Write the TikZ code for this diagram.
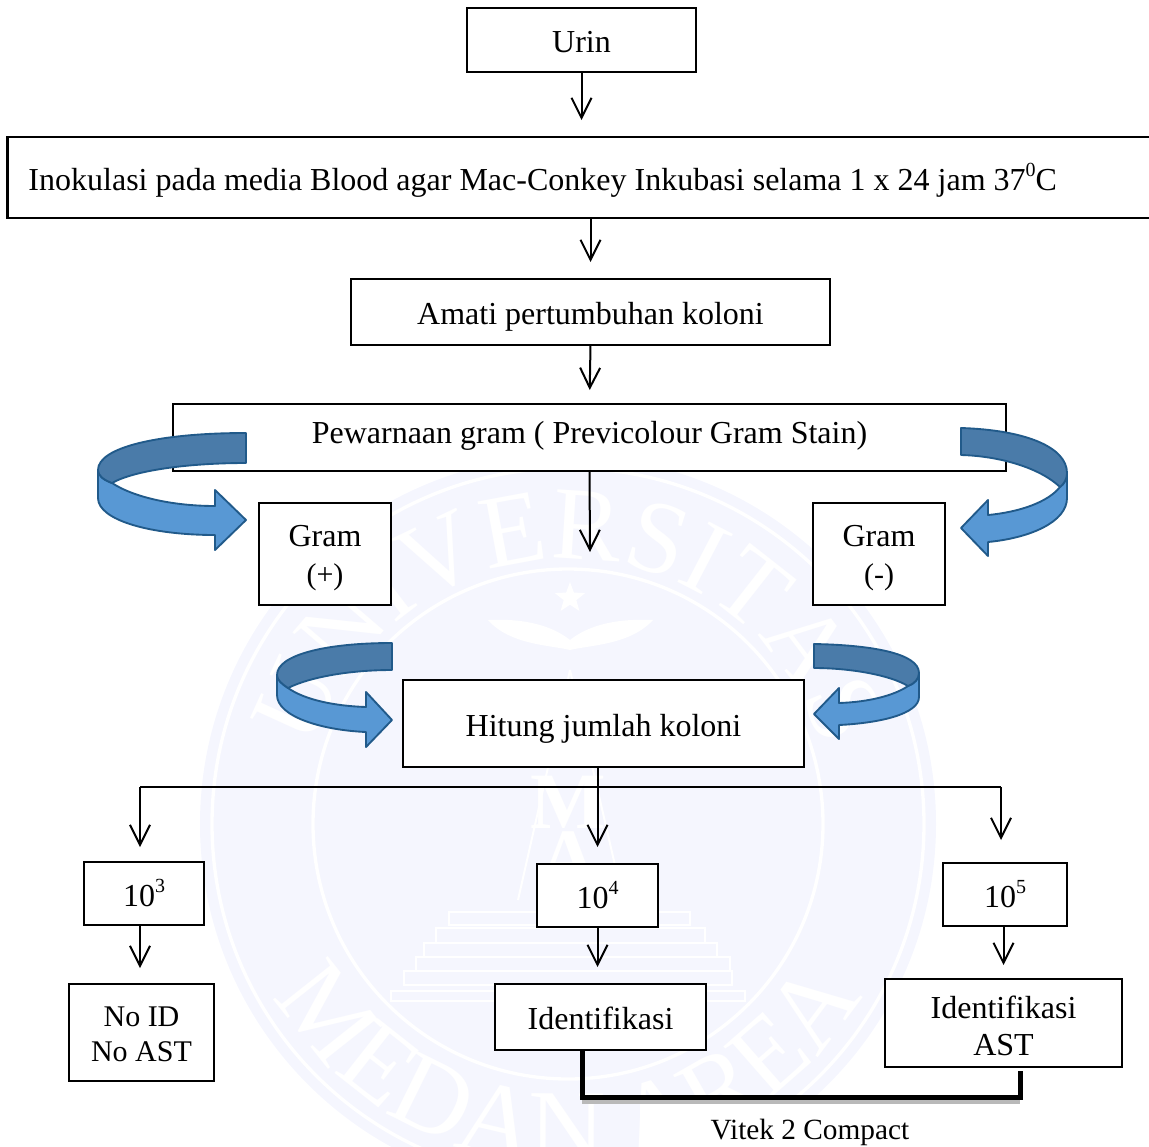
\documentclass[tikz,border=0pt]{standalone}
\usepackage{fontspec}
\setmainfont{Liberation Serif}
\usetikzlibrary{arrows.meta, decorations.text, shapes.geometric}
\newcommand{\pangkat}[1]{\raisebox{10pt}{\fontsize{15}{15}\selectfont #1}}
\definecolor{bandline}{HTML}{215A8A}
\definecolor{banddark}{HTML}{4A7BA9}
\definecolor{bandlight}{HTML}{5898D4}
\definecolor{segel}{HTML}{F5F6FE}
\tikzset{
    box/.style={draw, line width=1.7pt, fill=white, inner sep=0pt, outer sep=0pt, align=center, font=\fontsize{24}{27}\selectfont},
    oneline/.style={text height=19.8pt, text depth=1pt},
    arr/.style={line width=1.5pt, -{Straight Barb[length=15pt, width=15pt, line width=1.5pt]}},
    lnk/.style={line width=1.5pt},
    darkband/.style={draw=bandline, line width=1.4pt, fill=banddark, line join=round},
    lightband/.style={draw=bandline, line width=1.4pt, fill=bandlight, line join=round},
    tangga/.style={draw=white, line width=1.5pt},
}
\begin{document}
\begin{tikzpicture}[x=0.75pt, y=-0.75pt]
    \useasboundingbox (0, 0) rectangle (1149, 1146);

    % watermark
    \fill[segel] (568, 824) circle[radius=368];
    \draw[white, line width=2.5pt] (568, 824) circle[radius=356];
    \draw[white, line width=2.5pt] (568, 824) circle[radius=255];
    \path[decorate, decoration={text along path, text align=center, text={|\fontsize{78}{78}\selectfont\color{white}|UNIVERSITAS}}] (303, 824) arc[start angle=180, end angle=360, radius=265];
    \path[decorate, decoration={text along path, text align=center, text={|\fontsize{80}{80}\selectfont\color{white}|MEDAN AREA}}] (228, 824) arc[start angle=180, end angle=0, radius=340];
    \node[star, star points=5, star point ratio=2.4, fill=white, inner sep=0pt, minimum size=24pt] (bintang) at (570, 598) {};
    \fill[white] (488, 620) .. controls (530, 618) and (555, 628) .. (570, 640) .. controls (585, 628) and (610, 618) .. (653, 620) .. controls (630, 645) and (590, 645) .. (570, 650) .. controls (550, 645) and (510, 645) .. (488, 620) -- cycle;
    \node[font=\fontsize{60}{60}\selectfont\bfseries, text=white, inner sep=0pt] (hurufm) at (568, 802) {M};
    \node[font=\fontsize{60}{60}\selectfont\bfseries, text=white, inner sep=0pt] (hurufa) at (568, 858) {A};
    \draw[tangga] (570, 670) -- (518, 900) (570, 670) -- (623, 900);
    \draw[tangga] (449, 912) rectangle (690, 925);
    \draw[tangga] (436, 928) rectangle (705, 943);
    \draw[tangga] (424, 943) rectangle (717, 957);
    \draw[tangga] (416, 957) rectangle (730, 971);
    \draw[tangga] (404, 971) rectangle (732, 985);
    \draw[tangga] (391, 991) rectangle (745, 1001);

    % boxes
    \node[box, oneline, minimum width=171.75pt, minimum height=48pt] (urin) at (581.5, 40) {Urin};
    \node[box, oneline, minimum height=60.75pt, text width=826.5pt, inner xsep=15.75pt, align=flush left] (inokulasi) at (579.5, 177.5) {Inokulasi pada media Blood agar Mac-Conkey Inkubasi selama 1 x 24 jam 37\pangkat{0}C};
    \node[box, oneline, minimum width=359.25pt, minimum height=49.5pt] (amati) at (590.5, 312) {Amati pertumbuhan koloni};
    \node[box, minimum width=624.75pt, minimum height=50.25pt, text height=14.7pt, text depth=5pt] (pewarnaan) at (589.5, 437.5) {Pewarnaan gram ( Previcolour Gram Stain)};
    \node[box, minimum width=99pt, minimum height=76.5pt] (gramplus) at (325, 554) {\rule{0pt}{22pt}Gram\\[1.5pt]{\fontsize{22.5}{27}\selectfont (+)}};
    \node[box, minimum width=99pt, minimum height=76.5pt] (grammin) at (879, 554) {\rule{0pt}{22pt}Gram\\[1.5pt]{\fontsize{22.5}{27}\selectfont (-)}};
    \node[box, oneline, minimum width=300.75pt, minimum height=65.25pt] (hitung) at (603.5, 723.5) {Hitung jumlah koloni};
    \node[box, oneline, minimum width=90pt, minimum height=47.25pt] (seribu) at (144, 893.5) {10\pangkat{3}};
    \node[box, oneline, minimum width=90.75pt, minimum height=47.25pt] (puluhribu) at (597.5, 895.5) {10\pangkat{4}};
    \node[box, oneline, minimum width=93pt, minimum height=47.25pt] (ratusribu) at (1005, 894.5) {10\pangkat{5}};
    \node[box, minimum width=108.75pt, minimum height=72.75pt, font=\fontsize{22.5}{27}\selectfont] (noid) at (141.5, 1032.5) {\rule{0pt}{17pt}No ID\\[-1pt]No AST};
    \node[box, oneline, minimum width=158.25pt, minimum height=49.5pt] (identifikasi) at (600.5, 1017) {Identifikasi};
    \node[box, minimum width=177.75pt, minimum height=66pt] (identast) at (1003.5, 1023) {\rule{0pt}{21.5pt}Identifikasi\\[0.75pt]AST};
    \node[fill=white, font=\fontsize{22}{26}\selectfont, inner sep=0pt, minimum width=255pt, minimum height=33pt, text height=22pt, text depth=1pt] (vitek) at (810, 1125) {Vitek 2 Compact};

    \coordinate (tengah) at (590, 552);
    \coordinate (cabang) at (597.5, 787);
    \coordinate (kiri) at (140, 787);
    \coordinate (kanan) at (1001, 787);
    \coordinate (bawahkiri) at (582, 1097);
    \coordinate (bawahkanan) at (1020, 1097);
    \coordinate (atasast) at (1020, 1071);

    % arrows
    \draw[arr, shorten >=12.75pt] (urin.south) -- (inokulasi.north -| urin.south);
    \draw[arr, shorten >=12.75pt] (inokulasi.south -| amati.north) -- (amati.north);
    \draw[arr, shorten >=10.5pt] (amati.south) -- (pewarnaan.north);
    \draw[arr] (pewarnaan.south) -- (tengah);
    \draw[arr, shorten >=12.75pt] (hitung.south -| cabang) -- (puluhribu.north);
    \draw[lnk] (kiri) -- (kanan);
    \draw[arr, shorten >=11.25pt] (kiri) -- (kiri |- seribu.north);
    \draw[arr, shorten >=17.25pt] (kanan) -- (kanan |- ratusribu.north);
    \draw[arr, shorten >=12pt] (seribu.south -| kiri) -- (noid.north -| kiri);
    \draw[arr, shorten >=12.75pt] (puluhribu.south) -- (identifikasi.north -| puluhribu.south);
    \draw[arr, shorten >=10.5pt] (ratusribu.south -| identast.north) -- (identast.north);

    % thick link to vitek
    \draw[line width=3.75pt, gray!55] ([yshift=-3pt]bawahkiri) -- ([yshift=-3pt]bawahkanan);
    \draw[line width=3.75pt] (identifikasi.south -| bawahkiri) -- (bawahkiri) -- (bawahkanan) -- (atasast);

    % bent arrows, left
    \draw[lightband] (98, 470) -- (98, 498) .. controls (98, 520) and (150, 535) .. (215, 535) -- (215, 550) -- (246, 520) -- (215, 490) -- (215, 506) .. controls (175, 506) and (135, 498) .. (112, 483) .. controls (104, 480) and (98, 476) .. (98, 470) -- cycle;
    \draw[darkband] (246, 433) .. controls (160, 433) and (98, 447) .. (98, 470) .. controls (98, 476) and (104, 480) .. (112, 483) .. controls (135, 470) and (190, 463) .. (246, 463) -- cycle;
    \draw[lightband] (277, 675) -- (277, 695) .. controls (277, 716) and (320, 730) .. (366, 732) -- (366, 747) -- (392, 720) -- (366, 692) -- (366, 707) .. controls (335, 706) and (305, 700) .. (288, 688) .. controls (282, 684) and (277, 680) .. (277, 675) -- cycle;
    \draw[darkband] (392, 643) .. controls (325, 643) and (277, 655) .. (277, 675) .. controls (277, 680) and (282, 684) .. (288, 688) .. controls (310, 677) and (350, 670) .. (392, 670) -- cycle;

    % bent arrows, right
    \draw[lightband] (1067, 473) -- (1067, 498) .. controls (1067, 522) and (1030, 538) .. (988, 542) -- (988, 556) -- (961, 528) -- (988, 500) -- (988, 515) .. controls (1020, 512) and (1048, 502) .. (1060, 487) .. controls (1064, 484) and (1067, 479) .. (1067, 473) -- cycle;
    \draw[darkband] (961, 428) .. controls (1025, 430) and (1067, 447) .. (1067, 473) .. controls (1067, 479) and (1064, 484) .. (1060, 487) .. controls (1040, 468) and (1000, 456) .. (961, 455) -- cycle;
    \draw[lightband] (919, 673) -- (919, 697) .. controls (919, 714) and (880, 723) .. (839, 725) -- (839, 739) -- (814, 714) -- (839, 688) -- (839, 703) .. controls (870, 702) and (895, 695) .. (908, 686) .. controls (914, 684) and (919, 679) .. (919, 673) -- cycle;
    \draw[darkband] (814, 644) .. controls (870, 645) and (919, 653) .. (919, 673) .. controls (919, 679) and (914, 684) .. (908, 686) .. controls (890, 675) and (850, 668) .. (814, 668) -- cycle;
\end{tikzpicture}
\end{document}
